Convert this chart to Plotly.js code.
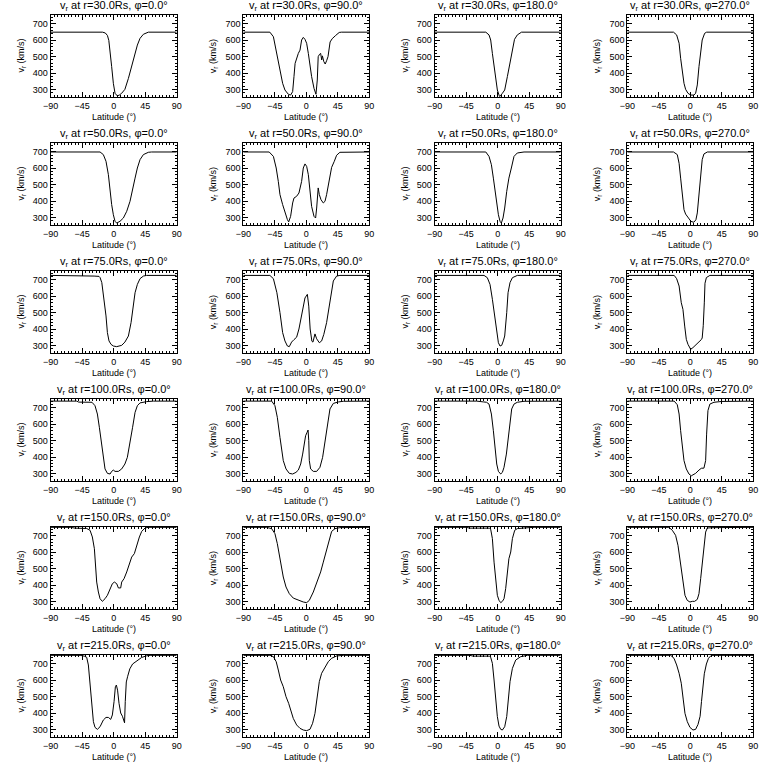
<!DOCTYPE html>
<html><head><meta charset="utf-8">
<script src="https://cdn.plot.ly/plotly-3.0.1.min.js"></script>
<style>html,body{margin:0;padding:0;background:#fff}#chart{width:768px;height:768px}</style>
</head><body><div id="chart"></div>
<script>
const radii = [30, 50, 75, 100, 150, 215];
const phis = [0, 90, 180, 270];
const xTickVals = [-90, -45, 0, 45, 90];
const yTickVals = [300, 400, 500, 600, 700];
const xTitleText = 'Latitude (°)';
const yTitleText = 'v<sub>r</sub> (km/s)';

// r = 30 Rs
const lat_r30_p0 = [-90,-16,-12,-9,-7,-5.2,-2.9,-0.5,1.9,5.2,8,11.4,16,21,25.7,30.5,33.8,37.6,42.4,49.5,90];
const v_r30_p0 = [650,650,645,630,600,540,439,337,276,260,265,276,300,367,439,520,571,612,637,650,650];
const lat_r30_p90 = [-90,-52,-47,-42,-37.6,-33.8,-30.5,-25.7,-22.4,-19.5,-17.6,-16,-11.4,-9,-6.7,-4.3,-1.9,0.5,2.9,5.2,7.6,11,13.8,15.7,17,19,20.5,22,23,25,27,29,31,34,37,42,47,50,90];
const v_r30_p90 = [650,650,622,520,408,337,296,270,265,286,378,459,520,540,602,618,606,582,520,439,378,306,270,357,500,515,520,480,505,470,455,475,500,590,610,630,648,650,650];
const lat_r30_p180 = [-90,-17,-12.4,-10,-7.6,-5.2,-2.9,-0.5,1.9,2.9,6.7,10,13.8,17.6,21,24,28,34,90];
const v_r30_p180 = [650,650,633,602,520,439,357,296,265,255,276,296,378,470,540,606,633,650,650];
const lat_r30_p270 = [-90,-24,-19.5,-16,-13.8,-11.4,-9,-6.7,-3.3,0.5,5.2,7.6,10,12.4,14.8,17,20.5,23.3,90];
const v_r30_p270 = [650,650,633,582,490,398,337,300,276,265,265,276,327,439,540,602,643,650,650];

// r = 50 Rs
const lat_r50_p0 = [-90,-19.5,-14.8,-11,-7.6,-5.2,-2.9,-0.5,1.9,4.3,9,13.8,18.6,23.3,27,30.5,33.8,37.6,42.4,49.5,54,90];
const v_r50_p0 = [700,700,684,643,561,459,378,316,276,265,276,296,337,398,480,540,602,653,684,698,700,700];
const lat_r50_p90 = [-90,-53,-47,-43,-40,-37.6,-33.8,-30.5,-27,-25.2,-22.4,-19.5,-17.6,-13.8,-10.5,-6.7,-4.3,-1.9,0.5,2.9,5.2,7.6,11,13.3,14.8,17,18.6,21,24.3,26.7,29,32.9,36.2,40,43.3,48,90];
const v_r50_p90 = [700,700,673,602,520,439,378,327,286,272,306,388,418,429,449,520,602,627,612,561,459,367,306,296,357,480,439,408,388,398,439,540,606,643,680,698,700];
const lat_r50_p180 = [-90,-17,-12.4,-9,-6.2,-3.8,-1.4,1,3.3,5.2,7.6,10,12.9,16,19.5,23.3,28,37.6,90];
const v_r50_p180 = [700,700,673,622,540,459,378,316,276,265,296,357,459,540,602,673,694,700,700];
const lat_r50_p270 = [-90,-24,-18.6,-16,-13.8,-11.4,-9,-6.7,-3,1,5,8,10,12.4,14.8,17,19.5,24.3,90];
const v_r50_p270 = [700,700,684,630,540,439,347,320,295,275,270,285,327,439,561,653,688,700,700];

// r = 75 Rs
const lat_r75_p0 = [-90,-34,-28,-21,-19.5,-17,-13.8,-11,-9,-6.7,-3.8,-0.5,4.3,11.4,16,21,24.8,28,30.5,33.8,37.6,42.4,47,90];
const v_r75_p0 = [728,728,724,722,715,684,582,480,378,327,306,296,292,300,320,357,439,540,622,673,708,724,728,728];
const lat_r75_p90 = [-90,-52,-47,-42,-37.6,-33.8,-30.5,-27,-24.3,-21,-17.6,-13.8,-10.5,-7.6,-4.3,-1.9,1.5,3.5,5.5,8,9.5,11,12.4,14.8,18.6,21.9,25,29,32.9,36.2,38.6,43.3,48,90];
const v_r75_p90 = [728,728,708,622,500,378,327,296,292,320,335,350,400,460,540,590,612,540,400,325,320,345,370,340,316,327,367,439,540,643,694,724,728,728];
const lat_r75_p180 = [-90,-19.5,-14.8,-11,-7.6,-4.3,-1.9,1,3.3,5.7,8,10,12.9,14.8,17.6,21,28,90];
const v_r75_p180 = [728,728,714,673,582,480,378,316,296,300,327,357,500,622,684,714,728,728];
const lat_r75_p270 = [-90,-23,-19.5,-16,-12.9,-10.5,-8,-5.7,-3.3,0.5,3.8,7.6,12.4,15.7,17,18.5,20,21,23,28,90];
const v_r75_p270 = [728,728,708,663,561,520,418,337,306,276,286,300,320,335,345,420,560,680,715,728,728];

// r = 100 Rs
const lat_r100_p0 = [-90,-53,-50,-31,-26.7,-23.3,-20.5,-17,-14.8,-12.4,-9,-5.2,-2.9,-0.5,1.9,6.7,11.4,16,19.5,23.3,27,30.5,33.8,37.6,42.4,47,56.7,90];
const v_r100_p0 = [742,742,736,735,714,663,582,480,398,327,300,296,312,320,312,312,327,357,398,480,582,673,714,731,735,739,742,742];
const lat_r100_p90 = [-90,-49.5,-44.8,-41.4,-37.6,-35.2,-32.9,-29,-24.3,-19.5,-14.8,-11.4,-8,-5.2,-2.9,-1,1,2.5,3.5,4.3,6.2,10,14.8,19.5,23.3,26.7,30,33.8,38.6,45.7,52.9,90];
const v_r100_p90 = [742,742,714,643,520,439,378,327,300,296,306,320,357,418,500,530,550,565,500,378,327,312,312,337,398,500,602,694,728,737,741,742];
const lat_r100_p180 = [-90,-30,-20,-16,-12.4,-9,-6.2,-3.8,-1.4,1,4.3,6.7,9,12.4,15.2,17.6,20,23.3,28,37.6,90];
const v_r100_p180 = [742,742,737,735,724,663,561,459,357,312,296,306,337,418,520,622,694,724,735,741,742];
const lat_r100_p270 = [-90,-23,-18.6,-16,-13.8,-11.4,-9,-5.7,-1.9,1.4,4.3,7.6,12.4,15.7,19.5,21.9,23.3,25.2,28,33.8,45,90];
const v_r100_p270 = [742,742,720,663,561,459,378,327,296,285,290,300,320,331,332,378,540,684,724,735,740,742];

// r = 150 Rs
const lat_r150_p0 = [-90,-62,-55,-38.6,-33.8,-30.5,-27.6,-25.7,-24.3,-21.9,-19.5,-16.2,-12.4,-9,-5.2,-1.9,1,4.3,6.7,10,11.4,14.8,18.6,22.4,25.7,29.5,32.9,36.7,40,44.8,49.5,90];
const v_r150_p0 = [753,753,748,746,735,694,622,520,418,357,316,300,316,337,378,408,418,408,382,382,418,439,480,531,571,592,643,694,728,749,753,753];
const lat_r150_p90 = [-90,-56.7,-49.5,-44.8,-41.4,-38.6,-36.2,-32.9,-29,-24.3,-18.6,-11.4,-4.3,0.5,4.3,10,15.7,20.5,24.3,28,31.4,33.8,36.2,41,48,90];
const v_r150_p90 = [753,753,745,714,653,582,510,449,388,347,320,306,296,292,306,357,418,480,540,602,653,694,728,745,751,753];
const lat_r150_p180 = [-90,-45,-40,-12,-10,-7.6,-5.2,-2.9,-0.5,1.9,4.3,6.7,9,11.4,13.8,16,18.6,21,24.3,28,37.6,52,90];
const v_r150_p180 = [753,753,748,748,741,684,540,418,337,306,292,300,316,378,480,561,602,684,735,745,749,753,753];
const lat_r150_p270 = [-90,-30.5,-25.7,-21,-17.6,-14.8,-12.4,-10,-7.6,-4.3,-0.5,2.9,6.2,10,12.4,14.8,17,19.5,21.9,24.3,33.8,90];
const v_r150_p270 = [753,753,735,704,643,561,480,398,337,306,296,300,300,312,347,439,540,643,724,749,751,753];

// r = 215 Rs
const lat_r215_p0 = [-90,-48,-42,-38.6,-36.2,-33.8,-31.4,-29,-26.7,-23.3,-19.5,-14.8,-11,-7.6,-4.3,-1.9,0.5,2.4,3.8,5.5,7.6,10,12.5,15.5,16.5,18,20,23,27,33,40,47,52,90];
const v_r215_p0 = [753,753,748,741,694,582,439,347,312,300,316,357,373,373,361,388,470,561,571,540,459,400,380,340,470,590,625,670,700,720,740,750,753,753];
const lat_r215_p90 = [-90,-52,-47,-43,-40,-36.7,-32.9,-29,-25.2,-22.4,-18.6,-13.8,-9,-4.3,0.5,5.2,9,12.4,15.7,18.6,21.9,26.7,31.4,36.2,43.3,52.9,90];
const v_r215_p90 = [753,753,745,714,663,602,561,500,459,418,367,327,306,296,292,300,337,398,500,592,643,684,714,735,749,753,753];
const lat_r215_p180 = [-90,-40,-35,-12,-10,-7.6,-5.2,-2.9,-0.5,1.9,4.3,6.7,10,12.9,15.2,17.6,21,25.7,32.9,42.4,90];
const v_r215_p180 = [753,753,748,748,741,704,602,480,378,320,300,296,316,378,480,592,673,724,745,753,753];
const lat_r215_p270 = [-90,-28,-23.3,-19.5,-16,-12.9,-10,-7.6,-4.3,-0.5,3.8,7.6,11,14,16,18,20,23,26,30,90];
const v_r215_p270 = [753,753,735,694,643,582,480,398,347,312,296,300,330,380,470,570,640,700,735,753,753];

const series = [
  [lat_r30_p0, v_r30_p0], [lat_r30_p90, v_r30_p90], [lat_r30_p180, v_r30_p180], [lat_r30_p270, v_r30_p270],
  [lat_r50_p0, v_r50_p0], [lat_r50_p90, v_r50_p90], [lat_r50_p180, v_r50_p180], [lat_r50_p270, v_r50_p270],
  [lat_r75_p0, v_r75_p0], [lat_r75_p90, v_r75_p90], [lat_r75_p180, v_r75_p180], [lat_r75_p270, v_r75_p270],
  [lat_r100_p0, v_r100_p0], [lat_r100_p90, v_r100_p90], [lat_r100_p180, v_r100_p180], [lat_r100_p270, v_r100_p270],
  [lat_r150_p0, v_r150_p0], [lat_r150_p90, v_r150_p90], [lat_r150_p180, v_r150_p180], [lat_r150_p270, v_r150_p270],
  [lat_r215_p0, v_r215_p0], [lat_r215_p90, v_r215_p90], [lat_r215_p180, v_r215_p180], [lat_r215_p270, v_r215_p270]
];

const W = 768, H = 768;
const colLeft = [50.7, 243.3, 434.7, 627.3];
const plotW = 126;
const rowTop0 = 15, rowStep = 128, plotH = 81.7;
const FONT = 'Liberation Sans, Arial, sans-serif';

const data = [];
const layout = {
  width: W, height: H,
  margin: {l: 0, r: 0, t: 0, b: 0},
  paper_bgcolor: '#fff', plot_bgcolor: '#fff',
  showlegend: false,
  font: {family: FONT, color: '#000', size: 9},
  annotations: []
};

series.forEach((s, i) => {
  const row = Math.floor(i / 4), col = i % 4;
  const n = i + 1;
  const xa = n === 1 ? 'x' : 'x' + n;
  const ya = n === 1 ? 'y' : 'y' + n;
  data.push({
    x: s[0], y: s[1], xaxis: xa, yaxis: ya,
    type: 'scatter', mode: 'lines',
    line: {color: '#000', width: 1},
    hoverinfo: 'skip'
  });
  const l = colLeft[col], t = rowTop0 + row * rowStep;
  const common = {
    ticks: 'inside', ticklen: 5, tickwidth: 1, tickcolor: '#000',
    showline: true, linecolor: '#000', linewidth: 1, mirror: 'ticks',
    showgrid: false, zeroline: false, fixedrange: true, automargin: false,
    tickfont: {family: FONT, size: 9, color: '#000'}
  };
  layout[n === 1 ? 'xaxis' : 'xaxis' + n] = Object.assign({}, common, {
    domain: [l / W, (l + plotW) / W], anchor: ya,
    range: [-90, 90], tickmode: 'array', tickvals: xTickVals,
    minor: {ticks: 'inside', ticklen: 2, dtick: 5, tick0: 0, tickcolor: '#000', showgrid: false}
  });
  layout[n === 1 ? 'yaxis' : 'yaxis' + n] = Object.assign({}, common, {
    domain: [1 - (t + plotH) / H, 1 - t / H], anchor: xa,
    range: [255, 755], tickmode: 'array', tickvals: yTickVals,
    minor: {ticks: 'inside', ticklen: 2, dtick: 20, tick0: 0, tickcolor: '#000', showgrid: false}
  });
  const cx = (l + plotW / 2) / W;
  layout.annotations.push({
    xref: 'paper', yref: 'paper', x: cx, y: 1 - t / H, yshift: 0,
    xanchor: 'center', yanchor: 'bottom', showarrow: false,
    text: 'v<sub>r</sub> at r=' + radii[row].toFixed(1) + 'Rs, φ=' + phis[col].toFixed(1) + '°',
    font: {family: FONT, size: 11, color: '#000'}
  });
  layout.annotations.push({
    xref: 'paper', yref: 'paper', x: cx, y: 1 - (t + 102) / H,
    xanchor: 'center', yanchor: 'middle', showarrow: false,
    text: xTitleText, font: {family: FONT, size: 9, color: '#000'}
  });
  layout.annotations.push({
    xref: 'paper', yref: 'paper', x: (l - 29) / W, y: 1 - (t + plotH / 2) / H,
    xanchor: 'center', yanchor: 'middle', showarrow: false, textangle: -90,
    text: yTitleText, font: {family: FONT, size: 9, color: '#000'}
  });
});

Plotly.newPlot('chart', data, layout, {staticPlot: true, displayModeBar: false});
</script></body></html>
